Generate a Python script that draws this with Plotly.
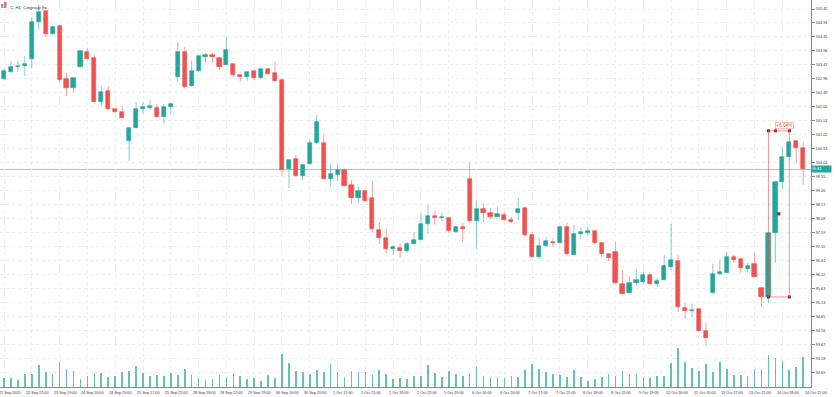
import plotly.graph_objects as go

TITLE = "C, H1: Citigroup Inc."

opens = [102.98, 103.22, 103.40, 103.43, 103.68, 104.97, 105.35, 104.55, 104.83, 102.98,
         102.66, 103.40, 103.92, 103.71, 102.17, 102.56, 101.93, 101.82, 100.81, 101.26,
         101.93, 101.96, 101.96, 101.65, 102.00, 103.05, 103.92, 102.73, 103.26, 103.75,
         103.82, 103.71, 103.47, 103.50, 103.12, 103.05, 103.26, 103.01, 103.33, 103.19,
         102.94, 99.83, 100.18, 99.58, 100.00, 100.74, 100.74, 99.48, 99.62, 99.79,
         99.27, 98.81, 99.06, 98.81, 97.69, 97.41, 97.03, 97.06, 96.96, 97.20,
         97.34, 97.90, 98.18, 98.11, 98.11, 97.62, 97.80, 99.48, 98.01, 98.43,
         98.29, 98.15, 98.22, 98.04, 98.29, 98.46, 97.52, 96.75, 97.13, 97.27,
         97.24, 97.80, 96.82, 97.55, 97.59, 97.66, 97.24, 96.85, 96.92, 95.80,
         95.49, 95.84, 95.87, 96.12, 95.80, 95.94, 96.40, 96.61, 94.96, 94.86,
         94.93, 94.16, 95.49, 96.15, 96.19, 96.75, 96.68, 96.33, 96.50, 95.66,
         95.35, 97.59, 99.37, 100.25, 100.81, 100.56]
highs = [103.33, 103.61, 103.61, 103.78, 105.15, 105.57, 105.36, 104.82, 104.84, 103.19,
         103.02, 103.97, 104.06, 103.82, 102.73, 102.73, 101.94, 102.00, 101.27, 102.17,
         102.17, 102.24, 102.10, 102.10, 102.14, 104.27, 104.10, 103.61, 103.79, 103.89,
         103.89, 103.72, 104.38, 103.51, 103.13, 103.23, 103.27, 103.34, 103.36, 103.57,
         102.98, 100.15, 100.32, 99.98, 100.84, 101.72, 101.05, 100.00, 100.00, 99.80,
         99.44, 99.20, 99.07, 99.41, 97.97, 97.73, 97.17, 97.24, 97.27, 97.62,
         98.29, 98.57, 98.36, 98.29, 98.12, 97.83, 97.94, 100.04, 98.74, 98.64,
         98.46, 98.50, 98.32, 98.15, 98.81, 98.47, 97.62, 97.41, 97.45, 97.41,
         97.81, 97.94, 97.87, 97.76, 97.80, 97.67, 97.25, 96.86, 97.27, 96.29,
         96.05, 96.33, 96.22, 96.19, 96.01, 96.82, 97.90, 96.82, 95.14, 95.10,
         94.94, 94.47, 96.50, 96.64, 96.92, 96.82, 96.69, 96.54, 96.89, 95.67,
         97.60, 99.38, 100.60, 100.78, 100.82, 100.77]
lows = [102.94, 103.19, 103.22, 103.08, 103.36, 104.69, 104.45, 104.52, 102.84, 102.38,
        102.52, 103.39, 103.66, 102.16, 102.03, 101.89, 101.79, 101.60, 100.11, 101.25,
        101.75, 101.89, 101.61, 101.40, 101.75, 102.87, 102.66, 102.70, 103.22, 103.54,
        103.54, 103.29, 103.46, 103.05, 102.87, 102.91, 102.94, 102.98, 103.14, 102.87,
        99.58, 99.16, 99.57, 99.44, 99.99, 100.73, 99.47, 99.20, 99.41, 99.22,
        98.60, 98.64, 98.67, 97.62, 97.20, 96.89, 96.82, 96.71, 96.89, 97.19,
        97.33, 97.55, 97.87, 98.01, 97.59, 97.59, 97.27, 97.94, 97.03, 97.97,
        98.08, 98.14, 98.01, 97.94, 98.04, 97.45, 96.71, 96.68, 97.10, 97.10,
        97.23, 96.82, 96.81, 97.38, 97.52, 97.20, 96.75, 96.61, 95.82, 95.44,
        95.48, 95.77, 95.84, 95.77, 95.70, 95.93, 96.29, 94.82, 94.58, 94.65,
        94.15, 93.63, 95.48, 96.11, 96.18, 96.54, 96.19, 96.19, 96.04, 95.00,
        95.14, 96.54, 99.13, 100.24, 100.04, 99.27]
closes = [103.26, 103.40, 103.43, 103.50, 104.97, 105.32, 104.55, 104.80, 102.94, 102.66,
          103.01, 103.96, 103.68, 102.17, 102.52, 101.93, 101.82, 101.61, 101.26, 101.93,
          102.00, 102.03, 101.65, 102.00, 102.10, 103.92, 102.70, 103.26, 103.78, 103.82,
          103.75, 103.40, 103.99, 103.12, 103.05, 103.22, 103.01, 103.33, 103.15, 102.91,
          99.79, 100.14, 99.58, 99.97, 100.74, 101.47, 99.48, 99.65, 99.79, 99.23,
          98.81, 99.06, 98.71, 97.73, 97.41, 97.03, 97.10, 96.96, 97.20, 97.34,
          97.90, 98.18, 98.11, 98.15, 97.66, 97.80, 97.73, 98.01, 98.43, 98.29,
          98.15, 98.25, 98.04, 97.97, 98.43, 97.52, 96.75, 97.13, 97.31, 97.24,
          97.80, 96.85, 97.55, 97.62, 97.66, 97.24, 96.85, 96.71, 95.84, 95.45,
          95.84, 95.94, 96.12, 95.80, 95.91, 96.43, 96.64, 95.00, 94.86, 94.89,
          94.16, 93.91, 96.15, 96.22, 96.75, 96.64, 96.36, 96.43, 96.05, 95.35,
          97.59, 99.37, 100.25, 100.77, 100.56, 99.81]
volumes = [9000, 9000, 7000, 13000, 13000, 22000, 15000, 13000, 25000, 18000,
           16000, 8000, 11000, 14000, 14000, 10000, 11000, 15000, 16000, 21000,
           14000, 11000, 12000, 11000, 14000, 12000, 18000, 12000, 9000, 7000,
           8000, 12000, 10000, 14000, 11000, 8000, 9000, 6000, 12000, 9000,
           33000, 24000, 16000, 15000, 13000, 17000, 15000, 23000, 15000, 10000,
           16000, 15000, 15000, 12000, 17000, 13000, 8000, 9000, 8000, 11000,
           11000, 22000, 14000, 10000, 16000, 13000, 11000, 14000, 20000, 11000,
           10000, 10000, 9000, 11000, 10000, 17000, 23000, 18000, 15000, 13000,
           12000, 10000, 17000, 10000, 6000, 8000, 10000, 13000, 11000, 16000,
           13000, 13000, 10000, 9000, 11000, 11000, 24000, 39000, 25000, 19000,
           16000, 23000, 15000, 25000, 18000, 12000, 12000, 11000, 18000, 18000,
           32000, 29000, 26000, 17000, 20000, 30000]

time_labels = ["22 Sep 2020", "22 Sep 22:00", "23 Sep 19:00", "24 Sep 16:00", "24 Sep 20:00",
               "25 Sep 17:00", "25 Sep 21:00", "28 Sep 18:00", "28 Sep 22:00", "29 Sep 19:00",
               "30 Sep 16:00", "30 Sep 20:00", "1 Oct 17:00", "1 Oct 21:00", "2 Oct 18:00",
               "2 Oct 22:00", "5 Oct 19:00", "6 Oct 16:00", "6 Oct 20:00", "7 Oct 17:00",
               "7 Oct 21:00", "8 Oct 18:00", "8 Oct 22:00", "9 Oct 19:00", "12 Oct 16:00",
               "12 Oct 20:00", "13 Oct 17:00", "13 Oct 21:00", "14 Oct 18:00", "14 Oct 22:00"]
label_step = 4

price_ticks = [105.42, 104.94, 104.45, 103.96, 103.47, 102.98, 102.49, 102.00, 101.51,
               101.02, 100.53, 100.04, 99.55, 99.06, 98.57, 98.08, 97.59, 97.10, 96.61,
               96.12, 95.63, 95.14, 94.65, 94.16, 93.67, 93.18, 92.69]

current_price = 99.81

range_label = "+6.04%"
range_start, range_end = 110, 113
range_high, range_low = 101.16, 95.35

GREEN = "#26a69a"
RED = "#ef5350"
FONT = "Liberation Sans"

n = len(opens)
idx = list(range(n))
is_up = [c >= o for o, c in zip(opens, closes)]

X0, X1 = -0.576, 116.12

fig = go.Figure()

# volume bars
fig.add_trace(go.Bar(x=idx, y=volumes, width=0.24, yaxis="y2",
                     marker=dict(color="rgba(38,166,154,0.7)", line_width=0),
                     hoverinfo="skip", showlegend=False))

# wicks
for up_flag, col in ((True, "rgba(38,166,154,0.55)"), (False, "rgba(239,83,80,0.55)")):
    xs, ys = [], []
    for i in idx:
        if is_up[i] == up_flag:
            xs += [i, i, None]
            ys += [lows[i], highs[i], None]
    fig.add_trace(go.Scatter(x=xs, y=ys, mode="lines", line=dict(color=col, width=1),
                             hoverinfo="skip", showlegend=False))

# bodies
for up_flag, col in ((True, GREEN), (False, RED)):
    bx = [i for i in idx if is_up[i] == up_flag]
    base = [min(opens[i], closes[i]) for i in bx]
    hgt = [abs(closes[i] - opens[i]) for i in bx]
    fig.add_trace(go.Bar(x=bx, y=hgt, base=base, width=0.6,
                         marker=dict(color=col, line=dict(color=col, width=0.6)),
                         hoverinfo="skip", showlegend=False))

# range rectangle object
fig.add_shape(type="rect", xref="x", yref="y", x0=range_start, x1=range_end,
              y0=range_low, y1=range_high, line=dict(color="rgba(239,83,80,0.6)", width=1))
cx = (range_start + range_end) / 2
cy = (range_low + range_high) / 2
fig.add_trace(go.Scatter(
    x=[range_start, range_end, range_start, range_end, cx, range_start + 1],
    y=[range_high, range_high, range_low, range_low, cy, range_high],
    mode="markers", marker=dict(symbol="square", size=3, color="#9b1c1c"),
    hoverinfo="skip", showlegend=False))
fig.add_annotation(x=range_start + 1, y=range_high, xref="x", yref="y",
                   xanchor="left", yanchor="bottom", yshift=2, xshift=0,
                   text=range_label, showarrow=False,
                   font=dict(family=FONT, size=4.8, color=RED),
                   bgcolor="white", bordercolor="rgba(239,83,80,0.6)", borderwidth=0.6, borderpad=0.5)

# current price line + label
fig.add_shape(type="line", xref="paper", yref="y", x0=0, x1=1,
              y0=current_price, y1=current_price,
              line=dict(color="#86cdc6", width=1), layer="below")
fig.add_annotation(x=1, y=current_price, xref="paper", yref="y", xanchor="left",
                   yanchor="middle", text=f"{current_price:.2f}", showarrow=False,
                   font=dict(family=FONT, size=3.8, color="white"),
                   bgcolor=GREEN, width=19, height=6, align="left", borderpad=0)

# time labels (paper positions derived from the bar index so the last one can sit past the axis)
for k, lab in enumerate(time_labels):
    pos = (k * label_step + 0.8 - X0) / (X1 - X0)
    fig.add_annotation(x=pos, y=0, xref="paper", yref="paper",
                       xanchor="center", yanchor="top", yshift=-1.5,
                       text=lab, showarrow=False,
                       font=dict(family=FONT, size=3.8, color="#333333"))

# title
fig.add_annotation(x=0, y=1, xref="paper", yref="paper", xanchor="left", yanchor="top",
                   xshift=8, yshift=-2.5, text=TITLE, showarrow=False,
                   font=dict(family=FONT, size=4.3, color="#333333"))
fig.add_shape(type="rect", xref="paper", yref="paper", x0=1 / 811, x1=3.5 / 811,
              y0=1 - 8 / 387, y1=1 - 4 / 387, line_width=0, fillcolor="#7fa8d8")
fig.add_shape(type="rect", xref="paper", yref="paper", x0=4 / 811, x1=6.5 / 811,
              y0=1 - 8 / 387, y1=1 - 2 / 387, line_width=0, fillcolor="#e57373")

fig.update_layout(
    width=836, height=397,
    margin=dict(l=0, r=25, t=0, b=10),
    paper_bgcolor="white", plot_bgcolor="white",
    barmode="overlay", bargap=0,
    showlegend=False,
    xaxis=dict(range=[X0, X1], tickvals=[k * label_step for k in range(len(time_labels))],
               showticklabels=False, ticks="", showgrid=True, gridcolor="#ececec",
               griddash="dot", gridwidth=1, zeroline=False, showline=True,
               linecolor="#8a8a8a", linewidth=1, fixedrange=True),
    yaxis=dict(side="right", range=[92.20, 105.735], tickvals=price_ticks,
               ticktext=[f"{p:.2f}" for p in price_ticks], ticks="outside", ticklen=3,
               tickcolor="#8a8a8a", tickfont=dict(family=FONT, size=3.8, color="#333333"),
               showgrid=True, gridcolor="#ececec", griddash="dot", gridwidth=1,
               zeroline=False, showline=True, linecolor="#8a8a8a", linewidth=1),
    yaxis2=dict(overlaying="y", range=[0, 387000], visible=False),
)

fig.write_html("out.html", config={"displayModeBar": False},
               post_script="document.body.style.margin='0';document.body.style.padding='0';")
